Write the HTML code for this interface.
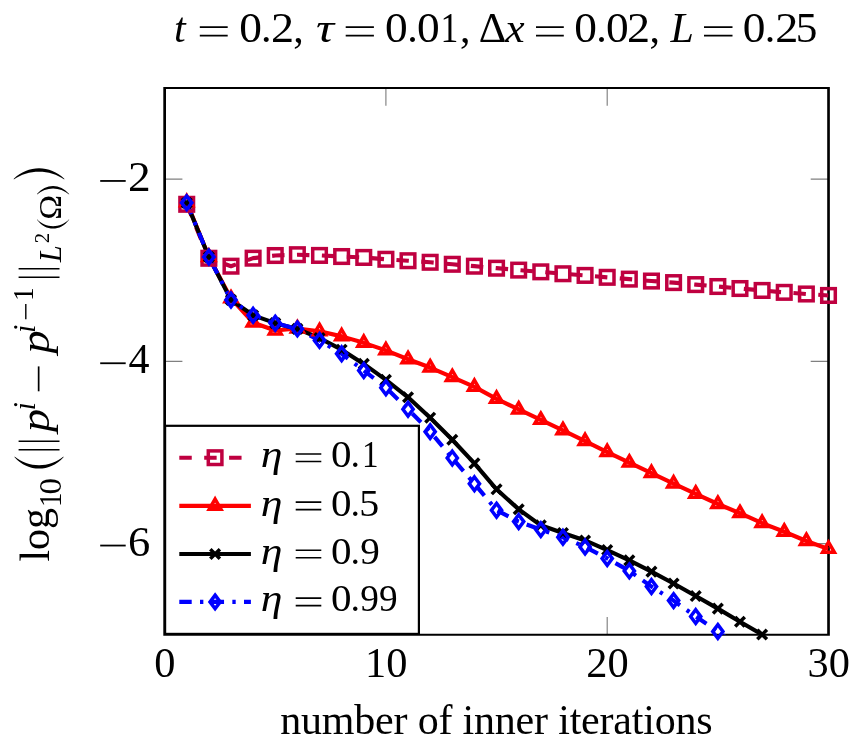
<!DOCTYPE html>
<html><head><meta charset="utf-8"><title>chart</title>
<style>html,body{margin:0;padding:0;background:#fff}body{width:863px;height:749px;overflow:hidden;font-family:"Liberation Serif",serif}svg{display:block;will-change:transform}</style>
</head><body>
<svg width="863" height="749" viewBox="0 0 863 749">
<defs><clipPath id="ax"><rect x="164.6" y="87.9" width="663.9" height="546.9"/></clipPath></defs>
<rect width="863" height="749" fill="#fff"/>
<path d="M164.6 634.8v-17.8M164.6 87.9v17.8M385.9 634.8v-17.8M385.9 87.9v17.8M607.2 634.8v-17.8M607.2 87.9v17.8M828.5 634.8v-17.8M828.5 87.9v17.8M164.6 179.05h17.8M828.5 179.05h-17.8M164.6 361.35h17.8M828.5 361.35h-17.8M164.6 543.65h17.8M828.5 543.65h-17.8" stroke="#808080" stroke-width="1.15" fill="none"/>
<path d="M163.3 86.95H829.85V635.85H163.3ZM166 88.95V633.8H827.2V88.95Z" fill="#000" fill-rule="evenodd"/>
<g clip-path="url(#ax)">
<path d="M186.73 204.3 L208.86 258.26 L230.99 266.19 L253.12 258.17 L275.25 255.52 L297.38 254.7 L319.51 255.43 L341.64 256.53 L363.77 257.44 L385.9 259.26 L408.03 260.72 L430.16 262.27 L452.29 264.28 L474.42 266.19 L496.55 268.19 L518.68 270.11 L540.81 271.84 L562.94 273.75 L585.07 275.4 L607.2 277.31 L629.33 279.13 L651.46 281.05 L673.59 282.6 L695.72 284.6 L717.85 286.52 L739.98 288.52 L762.11 290.44 L784.24 292.35 L806.37 293.99 L828.5 295.45" fill="none" stroke="#BF0040" stroke-width="4.15" stroke-linejoin="round" stroke-dasharray="12.45 12.45"/>
<path d="M186.73 202.38 L208.86 256.98 L230.99 298.46 L253.12 322.61 L275.25 330.54 L297.38 328.54 L319.51 331.27 L341.64 336.37 L363.77 342.85 L385.9 350.41 L408.03 359.25 L430.16 367.55 L452.29 377.21 L474.42 386.87 L496.55 398.9 L518.68 409.48 L540.81 419.96 L562.94 430.26 L585.07 441.11 L607.2 452.14 L629.33 462.71 L651.46 473.1 L673.59 483.58 L695.72 493.79 L717.85 504 L739.98 513.21 L762.11 523.14 L784.24 531.8 L806.37 541.01 L828.5 548.94" fill="none" stroke="#FF0000" stroke-width="4.15" stroke-linejoin="round"/>
<path d="M186.73 202.93 L208.86 256.98 L230.99 299.91 L253.12 315.32 L275.25 323.16 L297.38 328.9 L319.51 338.11 L341.64 349.68 L363.77 363.9 L385.9 379.85 L408.03 397.26 L430.16 417.68 L452.29 439.74 L474.42 463.35 L496.55 489.32 L518.68 509.29 L540.81 525.33 L562.94 532.99 L585.07 540.46 L607.2 550.03 L629.33 560.42 L651.46 571.63 L673.59 583.48 L695.72 596.06 L717.85 608.64 L739.98 621.77 L762.11 634.53" fill="none" stroke="#000000" stroke-width="4.15" stroke-linejoin="round"/>
<path d="M186.73 202.84 L208.86 256.98 L230.99 299.91 L253.12 315.32 L275.25 323.16 L297.38 328.9 L319.51 340.39 L341.64 353.78 L363.77 370.46 L385.9 387.69 L408.03 409.2 L430.16 431.63 L452.29 458.06 L474.42 483.76 L496.55 510.2 L518.68 521.59 L540.81 529.61 L562.94 537.27 L585.07 546.93 L607.2 558.42 L629.33 570.9 L651.46 586.58 L673.59 600.62 L695.72 616.48 L717.85 631.43 L739.98 647.56" fill="none" stroke="#0000FF" stroke-width="4.15" stroke-linejoin="round" stroke-dasharray="12.4 8.3 3.35 8.3"/>
</g>
<rect x="179.93" y="197.5" width="13.6" height="13.6" fill="none" stroke="#BF0040" stroke-width="3.5"/><rect x="202.06" y="251.46" width="13.6" height="13.6" fill="none" stroke="#BF0040" stroke-width="3.5"/><rect x="224.19" y="259.39" width="13.6" height="13.6" fill="none" stroke="#BF0040" stroke-width="3.5"/><rect x="246.32" y="251.37" width="13.6" height="13.6" fill="none" stroke="#BF0040" stroke-width="3.5"/><rect x="268.45" y="248.72" width="13.6" height="13.6" fill="none" stroke="#BF0040" stroke-width="3.5"/><rect x="290.58" y="247.9" width="13.6" height="13.6" fill="none" stroke="#BF0040" stroke-width="3.5"/><rect x="312.71" y="248.63" width="13.6" height="13.6" fill="none" stroke="#BF0040" stroke-width="3.5"/><rect x="334.84" y="249.73" width="13.6" height="13.6" fill="none" stroke="#BF0040" stroke-width="3.5"/><rect x="356.97" y="250.64" width="13.6" height="13.6" fill="none" stroke="#BF0040" stroke-width="3.5"/><rect x="379.1" y="252.46" width="13.6" height="13.6" fill="none" stroke="#BF0040" stroke-width="3.5"/><rect x="401.23" y="253.92" width="13.6" height="13.6" fill="none" stroke="#BF0040" stroke-width="3.5"/><rect x="423.36" y="255.47" width="13.6" height="13.6" fill="none" stroke="#BF0040" stroke-width="3.5"/><rect x="445.49" y="257.48" width="13.6" height="13.6" fill="none" stroke="#BF0040" stroke-width="3.5"/><rect x="467.62" y="259.39" width="13.6" height="13.6" fill="none" stroke="#BF0040" stroke-width="3.5"/><rect x="489.75" y="261.39" width="13.6" height="13.6" fill="none" stroke="#BF0040" stroke-width="3.5"/><rect x="511.88" y="263.31" width="13.6" height="13.6" fill="none" stroke="#BF0040" stroke-width="3.5"/><rect x="534.01" y="265.04" width="13.6" height="13.6" fill="none" stroke="#BF0040" stroke-width="3.5"/><rect x="556.14" y="266.95" width="13.6" height="13.6" fill="none" stroke="#BF0040" stroke-width="3.5"/><rect x="578.27" y="268.6" width="13.6" height="13.6" fill="none" stroke="#BF0040" stroke-width="3.5"/><rect x="600.4" y="270.51" width="13.6" height="13.6" fill="none" stroke="#BF0040" stroke-width="3.5"/><rect x="622.53" y="272.33" width="13.6" height="13.6" fill="none" stroke="#BF0040" stroke-width="3.5"/><rect x="644.66" y="274.25" width="13.6" height="13.6" fill="none" stroke="#BF0040" stroke-width="3.5"/><rect x="666.79" y="275.8" width="13.6" height="13.6" fill="none" stroke="#BF0040" stroke-width="3.5"/><rect x="688.92" y="277.8" width="13.6" height="13.6" fill="none" stroke="#BF0040" stroke-width="3.5"/><rect x="711.05" y="279.72" width="13.6" height="13.6" fill="none" stroke="#BF0040" stroke-width="3.5"/><rect x="733.18" y="281.72" width="13.6" height="13.6" fill="none" stroke="#BF0040" stroke-width="3.5"/><rect x="755.31" y="283.64" width="13.6" height="13.6" fill="none" stroke="#BF0040" stroke-width="3.5"/><rect x="777.44" y="285.55" width="13.6" height="13.6" fill="none" stroke="#BF0040" stroke-width="3.5"/><rect x="799.57" y="287.19" width="13.6" height="13.6" fill="none" stroke="#BF0040" stroke-width="3.5"/><rect x="821.7" y="288.65" width="13.6" height="13.6" fill="none" stroke="#BF0040" stroke-width="3.5"/>
<path d="M186.73 195.58L192.62 205.78L180.84 205.78Z" fill="none" stroke="#FF0000" stroke-width="3.5" stroke-linejoin="miter" stroke-miterlimit="10"/><path d="M208.86 250.18L214.75 260.38L202.97 260.38Z" fill="none" stroke="#FF0000" stroke-width="3.5" stroke-linejoin="miter" stroke-miterlimit="10"/><path d="M230.99 291.66L236.88 301.86L225.1 301.86Z" fill="none" stroke="#FF0000" stroke-width="3.5" stroke-linejoin="miter" stroke-miterlimit="10"/><path d="M253.12 315.81L259.01 326.01L247.23 326.01Z" fill="none" stroke="#FF0000" stroke-width="3.5" stroke-linejoin="miter" stroke-miterlimit="10"/><path d="M275.25 323.74L281.14 333.94L269.36 333.94Z" fill="none" stroke="#FF0000" stroke-width="3.5" stroke-linejoin="miter" stroke-miterlimit="10"/><path d="M297.38 321.74L303.27 331.94L291.49 331.94Z" fill="none" stroke="#FF0000" stroke-width="3.5" stroke-linejoin="miter" stroke-miterlimit="10"/><path d="M319.51 324.47L325.4 334.67L313.62 334.67Z" fill="none" stroke="#FF0000" stroke-width="3.5" stroke-linejoin="miter" stroke-miterlimit="10"/><path d="M341.64 329.57L347.53 339.77L335.75 339.77Z" fill="none" stroke="#FF0000" stroke-width="3.5" stroke-linejoin="miter" stroke-miterlimit="10"/><path d="M363.77 336.05L369.66 346.25L357.88 346.25Z" fill="none" stroke="#FF0000" stroke-width="3.5" stroke-linejoin="miter" stroke-miterlimit="10"/><path d="M385.9 343.61L391.79 353.81L380.01 353.81Z" fill="none" stroke="#FF0000" stroke-width="3.5" stroke-linejoin="miter" stroke-miterlimit="10"/><path d="M408.03 352.45L413.92 362.65L402.14 362.65Z" fill="none" stroke="#FF0000" stroke-width="3.5" stroke-linejoin="miter" stroke-miterlimit="10"/><path d="M430.16 360.75L436.05 370.95L424.27 370.95Z" fill="none" stroke="#FF0000" stroke-width="3.5" stroke-linejoin="miter" stroke-miterlimit="10"/><path d="M452.29 370.41L458.18 380.61L446.4 380.61Z" fill="none" stroke="#FF0000" stroke-width="3.5" stroke-linejoin="miter" stroke-miterlimit="10"/><path d="M474.42 380.07L480.31 390.27L468.53 390.27Z" fill="none" stroke="#FF0000" stroke-width="3.5" stroke-linejoin="miter" stroke-miterlimit="10"/><path d="M496.55 392.1L502.44 402.3L490.66 402.3Z" fill="none" stroke="#FF0000" stroke-width="3.5" stroke-linejoin="miter" stroke-miterlimit="10"/><path d="M518.68 402.68L524.57 412.88L512.79 412.88Z" fill="none" stroke="#FF0000" stroke-width="3.5" stroke-linejoin="miter" stroke-miterlimit="10"/><path d="M540.81 413.16L546.7 423.36L534.92 423.36Z" fill="none" stroke="#FF0000" stroke-width="3.5" stroke-linejoin="miter" stroke-miterlimit="10"/><path d="M562.94 423.46L568.83 433.66L557.05 433.66Z" fill="none" stroke="#FF0000" stroke-width="3.5" stroke-linejoin="miter" stroke-miterlimit="10"/><path d="M585.07 434.31L590.96 444.51L579.18 444.51Z" fill="none" stroke="#FF0000" stroke-width="3.5" stroke-linejoin="miter" stroke-miterlimit="10"/><path d="M607.2 445.34L613.09 455.54L601.31 455.54Z" fill="none" stroke="#FF0000" stroke-width="3.5" stroke-linejoin="miter" stroke-miterlimit="10"/><path d="M629.33 455.91L635.22 466.11L623.44 466.11Z" fill="none" stroke="#FF0000" stroke-width="3.5" stroke-linejoin="miter" stroke-miterlimit="10"/><path d="M651.46 466.3L657.35 476.5L645.57 476.5Z" fill="none" stroke="#FF0000" stroke-width="3.5" stroke-linejoin="miter" stroke-miterlimit="10"/><path d="M673.59 476.78L679.48 486.98L667.7 486.98Z" fill="none" stroke="#FF0000" stroke-width="3.5" stroke-linejoin="miter" stroke-miterlimit="10"/><path d="M695.72 486.99L701.61 497.19L689.83 497.19Z" fill="none" stroke="#FF0000" stroke-width="3.5" stroke-linejoin="miter" stroke-miterlimit="10"/><path d="M717.85 497.2L723.74 507.4L711.96 507.4Z" fill="none" stroke="#FF0000" stroke-width="3.5" stroke-linejoin="miter" stroke-miterlimit="10"/><path d="M739.98 506.41L745.87 516.61L734.09 516.61Z" fill="none" stroke="#FF0000" stroke-width="3.5" stroke-linejoin="miter" stroke-miterlimit="10"/><path d="M762.11 516.34L768 526.54L756.22 526.54Z" fill="none" stroke="#FF0000" stroke-width="3.5" stroke-linejoin="miter" stroke-miterlimit="10"/><path d="M784.24 525L790.13 535.2L778.35 535.2Z" fill="none" stroke="#FF0000" stroke-width="3.5" stroke-linejoin="miter" stroke-miterlimit="10"/><path d="M806.37 534.21L812.26 544.41L800.48 544.41Z" fill="none" stroke="#FF0000" stroke-width="3.5" stroke-linejoin="miter" stroke-miterlimit="10"/><path d="M828.5 542.14L834.39 552.34L822.61 552.34Z" fill="none" stroke="#FF0000" stroke-width="3.5" stroke-linejoin="miter" stroke-miterlimit="10"/>
<path d="M181.92 198.12L191.54 207.74M181.92 207.74L191.54 198.12" fill="none" stroke="#000000" stroke-width="3.5"/><path d="M204.05 252.17L213.67 261.79M204.05 261.79L213.67 252.17" fill="none" stroke="#000000" stroke-width="3.5"/><path d="M226.18 295.11L235.8 304.72M226.18 304.72L235.8 295.11" fill="none" stroke="#000000" stroke-width="3.5"/><path d="M248.31 310.51L257.93 320.13M248.31 320.13L257.93 310.51" fill="none" stroke="#000000" stroke-width="3.5"/><path d="M270.44 318.35L280.06 327.97M270.44 327.97L280.06 318.35" fill="none" stroke="#000000" stroke-width="3.5"/><path d="M292.57 324.09L302.19 333.71M292.57 333.71L302.19 324.09" fill="none" stroke="#000000" stroke-width="3.5"/><path d="M314.7 333.3L324.32 342.92M314.7 342.92L324.32 333.3" fill="none" stroke="#000000" stroke-width="3.5"/><path d="M336.83 344.87L346.45 354.49M336.83 354.49L346.45 344.87" fill="none" stroke="#000000" stroke-width="3.5"/><path d="M358.96 359.09L368.58 368.71M358.96 368.71L368.58 359.09" fill="none" stroke="#000000" stroke-width="3.5"/><path d="M381.09 375.05L390.71 384.66M381.09 384.66L390.71 375.05" fill="none" stroke="#000000" stroke-width="3.5"/><path d="M403.22 392.45L412.84 402.07M403.22 402.07L412.84 392.45" fill="none" stroke="#000000" stroke-width="3.5"/><path d="M425.35 412.87L434.97 422.49M425.35 422.49L434.97 412.87" fill="none" stroke="#000000" stroke-width="3.5"/><path d="M447.48 434.93L457.1 444.55M447.48 444.55L457.1 434.93" fill="none" stroke="#000000" stroke-width="3.5"/><path d="M469.61 458.54L479.23 468.16M469.61 468.16L479.23 458.54" fill="none" stroke="#000000" stroke-width="3.5"/><path d="M491.74 484.52L501.36 494.13M491.74 494.13L501.36 484.52" fill="none" stroke="#000000" stroke-width="3.5"/><path d="M513.87 504.48L523.49 514.09M513.87 514.09L523.49 504.48" fill="none" stroke="#000000" stroke-width="3.5"/><path d="M536 520.52L545.62 530.14M536 530.14L545.62 520.52" fill="none" stroke="#000000" stroke-width="3.5"/><path d="M558.13 528.18L567.75 537.79M558.13 537.79L567.75 528.18" fill="none" stroke="#000000" stroke-width="3.5"/><path d="M580.26 535.65L589.88 545.27M580.26 545.27L589.88 535.65" fill="none" stroke="#000000" stroke-width="3.5"/><path d="M602.39 545.22L612.01 554.84M602.39 554.84L612.01 545.22" fill="none" stroke="#000000" stroke-width="3.5"/><path d="M624.52 555.61L634.14 565.23M624.52 565.23L634.14 555.61" fill="none" stroke="#000000" stroke-width="3.5"/><path d="M646.65 566.82L656.27 576.44M646.65 576.44L656.27 566.82" fill="none" stroke="#000000" stroke-width="3.5"/><path d="M668.78 578.67L678.4 588.29M668.78 588.29L678.4 578.67" fill="none" stroke="#000000" stroke-width="3.5"/><path d="M690.91 591.25L700.53 600.87M690.91 600.87L700.53 591.25" fill="none" stroke="#000000" stroke-width="3.5"/><path d="M713.04 603.83L722.66 613.45M713.04 613.45L722.66 603.83" fill="none" stroke="#000000" stroke-width="3.5"/><path d="M735.17 616.96L744.79 626.57M735.17 626.57L744.79 616.96" fill="none" stroke="#000000" stroke-width="3.5"/><path d="M757.3 629.72L766.92 639.33M757.3 639.33L766.92 629.72" fill="none" stroke="#000000" stroke-width="3.5"/>
<path d="M186.73 196.04L191.83 202.84L186.73 209.64L181.63 202.84Z" fill="none" stroke="#0000FF" stroke-width="3.5" stroke-linejoin="miter" stroke-miterlimit="10"/><path d="M208.86 250.18L213.96 256.98L208.86 263.78L203.76 256.98Z" fill="none" stroke="#0000FF" stroke-width="3.5" stroke-linejoin="miter" stroke-miterlimit="10"/><path d="M230.99 293.11L236.09 299.91L230.99 306.71L225.89 299.91Z" fill="none" stroke="#0000FF" stroke-width="3.5" stroke-linejoin="miter" stroke-miterlimit="10"/><path d="M253.12 308.52L258.22 315.32L253.12 322.12L248.02 315.32Z" fill="none" stroke="#0000FF" stroke-width="3.5" stroke-linejoin="miter" stroke-miterlimit="10"/><path d="M275.25 316.36L280.35 323.16L275.25 329.96L270.15 323.16Z" fill="none" stroke="#0000FF" stroke-width="3.5" stroke-linejoin="miter" stroke-miterlimit="10"/><path d="M297.38 322.1L302.48 328.9L297.38 335.7L292.28 328.9Z" fill="none" stroke="#0000FF" stroke-width="3.5" stroke-linejoin="miter" stroke-miterlimit="10"/><path d="M319.51 333.59L324.61 340.39L319.51 347.19L314.41 340.39Z" fill="none" stroke="#0000FF" stroke-width="3.5" stroke-linejoin="miter" stroke-miterlimit="10"/><path d="M341.64 346.98L346.74 353.78L341.64 360.58L336.54 353.78Z" fill="none" stroke="#0000FF" stroke-width="3.5" stroke-linejoin="miter" stroke-miterlimit="10"/><path d="M363.77 363.66L368.87 370.46L363.77 377.26L358.67 370.46Z" fill="none" stroke="#0000FF" stroke-width="3.5" stroke-linejoin="miter" stroke-miterlimit="10"/><path d="M385.9 380.89L391 387.69L385.9 394.49L380.8 387.69Z" fill="none" stroke="#0000FF" stroke-width="3.5" stroke-linejoin="miter" stroke-miterlimit="10"/><path d="M408.03 402.4L413.13 409.2L408.03 416L402.93 409.2Z" fill="none" stroke="#0000FF" stroke-width="3.5" stroke-linejoin="miter" stroke-miterlimit="10"/><path d="M430.16 424.83L435.26 431.63L430.16 438.43L425.06 431.63Z" fill="none" stroke="#0000FF" stroke-width="3.5" stroke-linejoin="miter" stroke-miterlimit="10"/><path d="M452.29 451.26L457.39 458.06L452.29 464.86L447.19 458.06Z" fill="none" stroke="#0000FF" stroke-width="3.5" stroke-linejoin="miter" stroke-miterlimit="10"/><path d="M474.42 476.96L479.52 483.76L474.42 490.56L469.32 483.76Z" fill="none" stroke="#0000FF" stroke-width="3.5" stroke-linejoin="miter" stroke-miterlimit="10"/><path d="M496.55 503.4L501.65 510.2L496.55 517L491.45 510.2Z" fill="none" stroke="#0000FF" stroke-width="3.5" stroke-linejoin="miter" stroke-miterlimit="10"/><path d="M518.68 514.79L523.78 521.59L518.68 528.39L513.58 521.59Z" fill="none" stroke="#0000FF" stroke-width="3.5" stroke-linejoin="miter" stroke-miterlimit="10"/><path d="M540.81 522.81L545.91 529.61L540.81 536.41L535.71 529.61Z" fill="none" stroke="#0000FF" stroke-width="3.5" stroke-linejoin="miter" stroke-miterlimit="10"/><path d="M562.94 530.47L568.04 537.27L562.94 544.07L557.84 537.27Z" fill="none" stroke="#0000FF" stroke-width="3.5" stroke-linejoin="miter" stroke-miterlimit="10"/><path d="M585.07 540.13L590.17 546.93L585.07 553.73L579.97 546.93Z" fill="none" stroke="#0000FF" stroke-width="3.5" stroke-linejoin="miter" stroke-miterlimit="10"/><path d="M607.2 551.62L612.3 558.42L607.2 565.22L602.1 558.42Z" fill="none" stroke="#0000FF" stroke-width="3.5" stroke-linejoin="miter" stroke-miterlimit="10"/><path d="M629.33 564.1L634.43 570.9L629.33 577.7L624.23 570.9Z" fill="none" stroke="#0000FF" stroke-width="3.5" stroke-linejoin="miter" stroke-miterlimit="10"/><path d="M651.46 579.78L656.56 586.58L651.46 593.38L646.36 586.58Z" fill="none" stroke="#0000FF" stroke-width="3.5" stroke-linejoin="miter" stroke-miterlimit="10"/><path d="M673.59 593.82L678.69 600.62L673.59 607.42L668.49 600.62Z" fill="none" stroke="#0000FF" stroke-width="3.5" stroke-linejoin="miter" stroke-miterlimit="10"/><path d="M695.72 609.68L700.82 616.48L695.72 623.28L690.62 616.48Z" fill="none" stroke="#0000FF" stroke-width="3.5" stroke-linejoin="miter" stroke-miterlimit="10"/><path d="M717.85 624.63L722.95 631.43L717.85 638.23L712.75 631.43Z" fill="none" stroke="#0000FF" stroke-width="3.5" stroke-linejoin="miter" stroke-miterlimit="10"/>
<rect x="165.1" y="425.8" width="253.8" height="208.1" fill="#fff" stroke="#000" stroke-width="2.2"/>
<path d="M179.3 457.7 L215.1 457.7 L250.9 457.7" fill="none" stroke="#BF0040" stroke-width="4.15" stroke-linejoin="round" stroke-dasharray="12.45 12.45"/>
<rect x="208.3" y="450.9" width="13.6" height="13.6" fill="none" stroke="#BF0040" stroke-width="3.5"/>
<path d="M179.3 505.9 L215.1 505.9 L250.9 505.9" fill="none" stroke="#FF0000" stroke-width="4.15" stroke-linejoin="round"/>
<path d="M215.1 499.1L220.99 509.3L209.21 509.3Z" fill="none" stroke="#FF0000" stroke-width="3.5" stroke-linejoin="miter" stroke-miterlimit="10"/>
<path d="M179.3 554 L215.1 554 L250.9 554" fill="none" stroke="#000000" stroke-width="4.15" stroke-linejoin="round"/>
<path d="M210.29 549.19L219.91 558.81M210.29 558.81L219.91 549.19" fill="none" stroke="#000000" stroke-width="3.5"/>
<path d="M179.3 601.9 L215.1 601.9 L250.9 601.9" fill="none" stroke="#0000FF" stroke-width="4.15" stroke-linejoin="round" stroke-dasharray="12.4 8.3 3.35 8.3"/>
<path d="M215.1 595.1L220.2 601.9L215.1 608.7L210 601.9Z" fill="none" stroke="#0000FF" stroke-width="3.5" stroke-linejoin="miter" stroke-miterlimit="10"/>
<g font-family="'Liberation Serif', serif" fill="#000">
<text x="174" y="42.4" font-size="42" font-style="italic">t</text>
<path d="M199.8 27.2H227.7M199.8 35.6H227.7" stroke="#000" stroke-width="1.7" fill="none"/>
<text transform="translate(239.17 42.4) scale(1.08 1)" font-size="42">0</text>
<text x="261.03" y="42.4" font-size="42">.</text>
<text transform="translate(271.07 42.4) scale(1.1 1)" font-size="42">2</text>
<text x="293.3" y="42.4" font-size="42">,</text>
<text transform="translate(315.99 42.4) scale(1.2 1)" font-size="42" font-style="italic">τ</text>
<path d="M345.7 27.2H373.9M345.7 35.6H373.9" stroke="#000" stroke-width="1.7" fill="none"/>
<text transform="translate(384.97 42.4) scale(1.08 1)" font-size="42">0</text>
<text x="407.13" y="42.4" font-size="42">.</text>
<text transform="translate(417.07 42.4) scale(1.08 1)" font-size="42">0</text>
<text transform="translate(440.56 42.4) scale(0.85 1)" font-size="42">1</text>
<text x="460.1" y="42.4" font-size="42">,</text>
<text transform="translate(478.77 42.4) scale(1.02 1)" font-size="42">Δ</text>
<text transform="translate(505.13 42.4) scale(1.04 1)" font-size="42" font-style="italic">x</text>
<path d="M536 27.2H563.8M536 35.6H563.8" stroke="#000" stroke-width="1.7" fill="none"/>
<text transform="translate(574.27 42.4) scale(1.08 1)" font-size="42">0</text>
<text x="596.23" y="42.4" font-size="42">.</text>
<text transform="translate(605.97 42.4) scale(1.08 1)" font-size="42">0</text>
<text transform="translate(627.07 42.4) scale(1.1 1)" font-size="42">2</text>
<text x="649.5" y="42.4" font-size="42">,</text>
<text x="670.39" y="42.4" font-size="42" font-style="italic">L</text>
<path d="M704 27.2H732.5M704 35.6H732.5" stroke="#000" stroke-width="1.7" fill="none"/>
<text transform="translate(742.77 42.4) scale(1.08 1)" font-size="42">0</text>
<text x="764.63" y="42.4" font-size="42">.</text>
<text transform="translate(775.27 42.4) scale(1.1 1)" font-size="42">2</text>
<text transform="translate(795.69 42.4) scale(1.03 1)" font-size="42">5</text>
<path d="M100.2 180.95H125.7" stroke="#000" stroke-width="1.8" fill="none"/>
<text transform="translate(127.91 190.95) scale(1.08 1)" font-size="42">2</text>
<path d="M100.2 363.25H125.7" stroke="#000" stroke-width="1.8" fill="none"/>
<text x="128.38" y="373.25" font-size="42">4</text>
<path d="M100.2 545.55H125.7" stroke="#000" stroke-width="1.8" fill="none"/>
<text transform="translate(127.99 555.55) scale(1.06 1)" font-size="42">6</text>
<text transform="translate(164.9 677.3) scale(1.01 1)" font-size="42" text-anchor="middle">0</text>
<text transform="translate(386.2 677.3) scale(1.01 1)" font-size="42" text-anchor="middle">10</text>
<text transform="translate(607.5 677.3) scale(1.01 1)" font-size="42" text-anchor="middle">20</text>
<text transform="translate(828.8 677.3) scale(1.01 1)" font-size="42" text-anchor="middle">30</text>
<text x="280.23" y="734" font-size="42" textLength="432.5" lengthAdjust="spacing">number of inner iterations</text>
<text transform="translate(260.64 467.3) scale(1.15 1)" font-size="38" font-style="italic">η</text>
<path d="M295.7 453.95H321.3M295.7 461.45H321.3" stroke="#000" stroke-width="1.6" fill="none"/>
<text transform="translate(331.04 467.3) scale(1.08 1)" font-size="38">0</text>
<text x="350.4" y="467.3" font-size="38">.</text>
<text transform="translate(361.89 467.3) scale(0.87 1)" font-size="38">1</text>
<text transform="translate(260.64 515.5) scale(1.15 1)" font-size="38" font-style="italic">η</text>
<path d="M295.7 502.15H321.3M295.7 509.65H321.3" stroke="#000" stroke-width="1.6" fill="none"/>
<text transform="translate(331.04 515.5) scale(1.08 1)" font-size="38">0</text>
<text x="350.4" y="515.5" font-size="38">.</text>
<text transform="translate(359.18 515.5) scale(1.05 1)" font-size="38">5</text>
<text transform="translate(260.64 563.6) scale(1.15 1)" font-size="38" font-style="italic">η</text>
<path d="M295.7 550.25H321.3M295.7 557.75H321.3" stroke="#000" stroke-width="1.6" fill="none"/>
<text transform="translate(331.04 563.6) scale(1.08 1)" font-size="38">0</text>
<text x="350.4" y="563.6" font-size="38">.</text>
<text transform="translate(360.24 563.6) scale(1.03 1)" font-size="38">9</text>
<text transform="translate(260.64 610.7) scale(1.15 1)" font-size="38" font-style="italic">η</text>
<path d="M295.7 598.15H321.3M295.7 605.65H321.3" stroke="#000" stroke-width="1.6" fill="none"/>
<text transform="translate(331.04 610.7) scale(1.08 1)" font-size="38">0</text>
<text x="350.4" y="610.7" font-size="38">.</text>
<text transform="translate(360.29 610.7) scale(0.98 1)" font-size="38">99</text>
</g>
<g font-family="'Liberation Serif', serif" fill="#000" transform="translate(48.6 561.6) rotate(-90)">
<text x="0" y="0" font-size="42">log</text>
<text transform="translate(54.57 12.2) scale(0.9 1)" font-size="32">1</text>
<text transform="translate(67.04 12.2) scale(1.03 1)" font-size="32">0</text>
<path d="M104.4 -34C89.2 -20.31 89.2 1.21 104.4 14.9L105.1 14.9C93.54 1.21 93.54 -20.31 105.1 -34Z"/>
<path d="M111.8 -30V10.9M120.3 -30V10.9" stroke="#000" stroke-width="1.5" fill="none"/>
<text transform="translate(129.71 0) scale(1.1 1)" font-size="42" font-style="italic">p</text>
<text x="151" y="-13.7" font-size="30.5" font-style="italic">i</text>
<path d="M170.3 -9.95H195.2" stroke="#000" stroke-width="1.7"/>
<text transform="translate(208.11 0) scale(1.1 1)" font-size="42" font-style="italic">p</text>
<text x="228.6" y="-13.7" font-size="30.5" font-style="italic">i</text>
<path d="M242.3 -22.8H257.5" stroke="#000" stroke-width="1.4"/>
<text transform="translate(260.69 -16) scale(0.9 1)" font-size="30.5">1</text>
<path d="M284.4 -30V10.9M292.8 -30V10.9" stroke="#000" stroke-width="1.5" fill="none"/>
<text x="299.36" y="12.5" font-size="30.5" font-style="italic">L</text>
<text x="318.29" y="0.5" font-size="20.7">2</text>
<path d="M341.9 -11.6C330.03 -2.61 330.03 11.51 341.9 20.5L342.4 20.5C333.12 11.51 333.12 -2.61 342.4 -11.6Z"/>
<text transform="translate(341.77 12.5) scale(1.08 1)" font-size="31">Ω</text>
<path d="M367.5 -11.6C378.3 -2.61 378.3 11.51 367.5 20.5L367 20.5C375.22 11.51 375.22 -2.61 367 -11.6Z"/>
<path d="M382.8 -34.8C396.93 -20.66 396.93 1.56 382.8 15.7L382.1 15.7C392.59 1.56 392.59 -20.66 382.1 -34.8Z"/>
</g>
</svg>
</body></html>
